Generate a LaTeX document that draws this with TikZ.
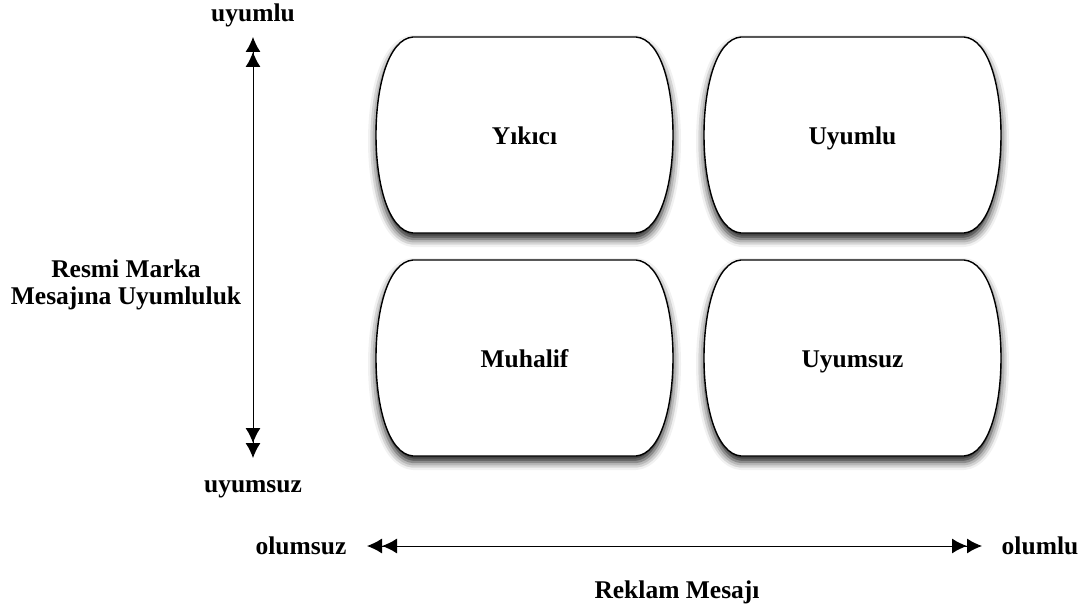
\documentclass[tikz,border=0pt]{standalone}
\usepackage{fontspec}
\setmainfont{Liberation Serif}
\usetikzlibrary{arrows.meta,shadows,shadows.blur,fadings}
\begin{document}
\begin{tikzpicture}[x=1pt,y=-1pt,
  quad/.style={draw=black,line width=1.4pt,fill=white,
    blur shadow={shadow xshift=0pt,shadow yshift=-6pt,shadow blur radius=8pt,shadow opacity=90}},
  lbl/.style={font=\fontsize{25.5}{29}\selectfont\bfseries,inner sep=0pt,anchor=base},
  axis/.style={line width=1pt,
    {Latex[length=15pt,width=15pt]Latex[length=15pt,width=15pt]}-{Latex[length=15pt,width=15pt]Latex[length=15pt,width=15pt]}}]
\useasboundingbox (0,0) rectangle (1088,610);
\newcommand\quadshape[1]{%
  \begin{scope}[shift={(#1)}]
  \path[quad] (-111.5,-98) -- (111.5,-98)
    .. controls (136.5,-96) and (148.5,-48) .. (148.5,0)
    .. controls (148.5,48) and (136.5,96) .. (111.5,98)
    -- (-111.5,98)
    .. controls (-136.5,96) and (-148.5,48) .. (-148.5,0)
    .. controls (-148.5,-48) and (-136.5,-96) .. (-111.5,-98) -- cycle;
  \end{scope}}
\coordinate (cyk) at (524.5,135);
\coordinate (cuy) at (852.5,135);
\coordinate (cmu) at (524.5,358);
\coordinate (cus) at (852.5,358);
\quadshape{cyk}\quadshape{cuy}\quadshape{cmu}\quadshape{cus}
\node[lbl] (yk) at (524.5,144) {Yıkıcı};
\node[lbl] (uy) at (852.5,144) {Uyumlu};
\node[lbl] (mu) at (524.5,367) {Muhalif};
\node[lbl] (us) at (852.5,367) {Uyumsuz};
\node[lbl] (top) at (253,22) {uyumlu};
\node[lbl] (bot) at (253,492) {uyumsuz};
\node[lbl] (ylab1) at (126,277) {Resmi Marka};
\node[lbl] (ylab2) at (126,304) {Mesajına Uyumluluk};
\node[lbl] (left) at (301,554) {olumsuz};
\node[lbl] (right) at (1040,554) {olumlu};
\node[lbl] (xlab) at (677,598) {Reklam Mesajı};
\coordinate (vt) at (253,37);
\coordinate (vb) at (253,458);
\coordinate (hl) at (367,546);
\coordinate (hr) at (982,546);
\draw[axis] (vt) -- (vb);
\draw[axis] (hl) -- (hr);
\end{tikzpicture}
\end{document}
